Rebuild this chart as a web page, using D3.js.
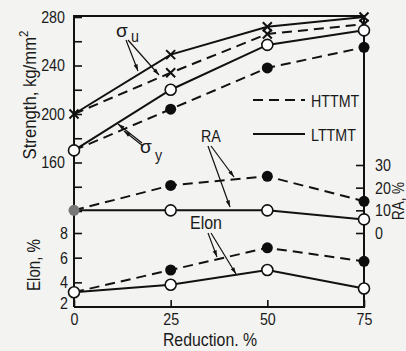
<!DOCTYPE html>
<html><head><meta charset="utf-8">
<script src="https://cdn.jsdelivr.net/npm/d3@7"></script>
<style>
html,body{margin:0;padding:0;background:#f3f3f1;}
svg{display:block;}
text{font-family:"Liberation Sans",Arial,sans-serif;fill:#1a1a1a;}
</style></head>
<body>
<svg id="c" width="406" height="351"></svg>
<script>
const reduction = [0, 25, 50, 75];
const xTicks = [0, 25, 50, 75];
// Strength (kg/mm2)
const sigmaU_LTTMT = [200, 249, 272, 280];
const sigmaU_HTTMT = [200, 234, 266, 274];
const sigmaY_LTTMT = [170, 220, 257, 269];
const sigmaY_HTTMT = [170, 204, 238, 255];
// Reduction of area (%)
const RA_LTTMT = [10, 10, 10, 6];
const RA_HTTMT = [10, 21, 25, 14];
// Elongation (%)
const Elon_LTTMT = [3.2, 3.8, 5.0, 3.5];
const Elon_HTTMT = [3.2, 5.0, 6.8, 5.7];
const strengthTicks = [120, 140, 160, 180, 200, 220, 240, 260, 280];
const strengthLabels = [160, 200, 240, 280];
const elonTicks = [2, 4, 6, 8];
const raTicks = [0, 10, 20, 30];

const svg = d3.select("#c");
const L = 74, R = 364, T = 16, B = 307;
const SX = 0.84; // horizontal condensation of the typeface
const x = d3.scaleLinear().domain([0, 75]).range([L, R]);
const yS = d3.scaleLinear().domain([120, 280]).range([211, 17]);
const yR = d3.scaleLinear().domain([0, 30]).range([233, 165]);
const yE = d3.scaleLinear().domain([2, 8]).range([307, 233]);

function txt(px, py, str, size, opts = {}) {
  const t = svg.append("text")
    .attr("transform", `translate(${px},${py}) rotate(${opts.rot || 0}) scale(${opts.sx || SX},1)`)
    .attr("text-anchor", opts.anchor || "start")
    .style("font-size", size + "px");
  if (opts.html) t.html(str); else t.text(str);
  return t;
}

// frame
svg.append("path").attr("d", `M${L},${B}V${T}H${R}V${B}H${L}`)
  .attr("fill", "none").attr("stroke", "#111").attr("stroke-width", 2);

function styleAxis(g, side) {
  g.select(".domain").remove();
  g.selectAll(".tick line").attr("stroke", "#111").attr("stroke-width", 1.6);
  g.selectAll(".tick text").style("font-size", "17px").attr("fill", "#1a1a1a")
    .each(function () {
      const el = d3.select(this);
      if (side === "left" || side === "right") el.attr("x", +el.attr("x") / SX);
      el.attr("transform", `scale(${SX},1)`);
    });
}
// Strength axis
svg.append("g").attr("transform", `translate(${L},0)`)
  .call(d3.axisLeft(yS).tickValues(strengthTicks).tickSizeInner(-8).tickSizeOuter(0).tickPadding(9)
    .tickFormat(d => strengthLabels.includes(d) ? d : ""))
  .call(g => styleAxis(g, "left"));
// Elon axis
svg.append("g").attr("transform", `translate(${L},0)`)
  .call(d3.axisLeft(yE).tickValues(elonTicks).tickSizeInner(-8).tickSizeOuter(0).tickPadding(6)
    .tickFormat(d3.format("d")))
  .call(g => styleAxis(g, "left"))
  .call(g => g.selectAll(".tick").filter(d => d === 2).select("line").remove())
  .call(g => g.selectAll(".tick").filter(d => d === 2).select("text").attr("dy", "0.1em"));
// RA axis
svg.append("g").attr("transform", `translate(${R},0)`)
  .call(d3.axisRight(yR).tickValues(raTicks).tickSizeInner(-8).tickSizeOuter(0).tickPadding(11))
  .call(g => styleAxis(g, "right"));
// X axis
svg.append("g").attr("transform", `translate(0,${B})`)
  .call(d3.axisBottom(x).tickValues(xTicks).tickSizeInner(-7).tickSizeOuter(0).tickPadding(6))
  .call(g => styleAxis(g, "bottom"));

// axis titles
txt(36, 95, 'Strength, kg/mm<tspan dy="-8" font-size="13px">2</tspan>', 19, {rot: -90, anchor: "middle", html: true, sx: 0.88});
txt(40, 265, "Elon,  %", 18, {rot: -90, anchor: "middle"});
txt(404, 201, "RA,  %", 16, {rot: -90, anchor: "middle"});
txt(210, 346, "Reduction.  %", 18, {anchor: "middle", sx: 0.88});

// series
const series = [
  {v: sigmaU_LTTMT, y: yS, dash: null, mk: "x"},
  {v: sigmaU_HTTMT, y: yS, dash: "10,6", mk: "x"},
  {v: sigmaY_LTTMT, y: yS, dash: null, mk: "o"},
  {v: sigmaY_HTTMT, y: yS, dash: "10,6", mk: "f"},
  {v: RA_LTTMT, y: yR, dash: null, mk: "o"},
  {v: RA_HTTMT, y: yR, dash: "10,6", mk: "f"},
  {v: Elon_LTTMT, y: yE, dash: null, mk: "o"},
  {v: Elon_HTTMT, y: yE, dash: "10,6", mk: "f"},
];
series.forEach(s => {
  const line = d3.line().x((d, i) => x(reduction[i])).y(d => s.y(d));
  svg.append("path").attr("d", line(s.v)).attr("fill", "none")
    .attr("stroke", "#111").attr("stroke-width", 2)
    .attr("stroke-dasharray", s.dash);
});
function drawMarkers(s, startIdx) {
  s.v.forEach((d, i) => {
    if (i < startIdx) return;
    const cx = x(reduction[i]), cy = s.y(d);
    if (s.mk === "x") {
      const r = 4.5;
      svg.append("path").attr("d", `M${cx-r},${cy-r}L${cx+r},${cy+r}M${cx-r},${cy+r}L${cx+r},${cy-r}`)
        .attr("stroke", "#111").attr("stroke-width", 2);
    } else if (s.mk === "f") {
      svg.append("circle").attr("cx", cx).attr("cy", cy).attr("r", 5.5).attr("fill", "#0d0d0d");
    } else {
      svg.append("circle").attr("cx", cx).attr("cy", cy).attr("r", 5.5)
        .attr("fill", "#fff").attr("stroke", "#111").attr("stroke-width", 1.6);
    }
  });
}
drawMarkers(series[1], 1);
drawMarkers(series[0], 0);
drawMarkers(series[3], 1);
drawMarkers(series[2], 0);
drawMarkers(series[5], 1);
drawMarkers(series[4], 1);
drawMarkers(series[7], 1);
drawMarkers(series[6], 0);
svg.append("circle").attr("cx", x(reduction[0])).attr("cy", yR(RA_LTTMT[0])).attr("r", 5.5).attr("fill", "#777");

// legend
svg.append("line").attr("x1", 253).attr("x2", 305).attr("y1", 100).attr("y2", 100)
  .attr("stroke", "#111").attr("stroke-width", 2).attr("stroke-dasharray", "10,6");
txt(311, 107, "HTTMT", 17);
svg.append("line").attr("x1", 253).attr("x2", 305).attr("y1", 134).attr("y2", 134)
  .attr("stroke", "#111").attr("stroke-width", 2);
txt(311, 141, "LTTMT", 17);

// annotations
txt(116, 37, "σ", 19, {sx: 1});
txt(131, 42, "u", 17);
txt(140, 153, "σ", 19, {sx: 1});
txt(155, 161, "y", 17);
txt(201, 142, "RA", 17);
txt(190, 229, "Elon", 19);

function arrow(x1, y1, x2, y2) {
  svg.append("line").attr("x1", x1).attr("y1", y1).attr("x2", x2).attr("y2", y2)
    .attr("stroke", "#111").attr("stroke-width", 1.2);
  const a = Math.atan2(y2 - y1, x2 - x1), l = 7, w = 0.3;
  const p1 = [x2 - l * Math.cos(a - w), y2 - l * Math.sin(a - w)];
  const p2 = [x2 - l * Math.cos(a + w), y2 - l * Math.sin(a + w)];
  svg.append("path").attr("d", `M${x2},${y2}L${p1}L${p2}Z`).attr("fill", "#111");
}
const arrows = [
  [126, 40, 138, 71], [128, 40, 159, 75],
  [142, 143, 118, 124], [143, 146, 124, 131],
  [208, 146, 230, 207], [211, 146, 234, 177],
  [208, 233, 217, 257], [211, 233, 236, 274],
];
arrows.forEach(a => arrow(...a));
</script>
</body></html>
